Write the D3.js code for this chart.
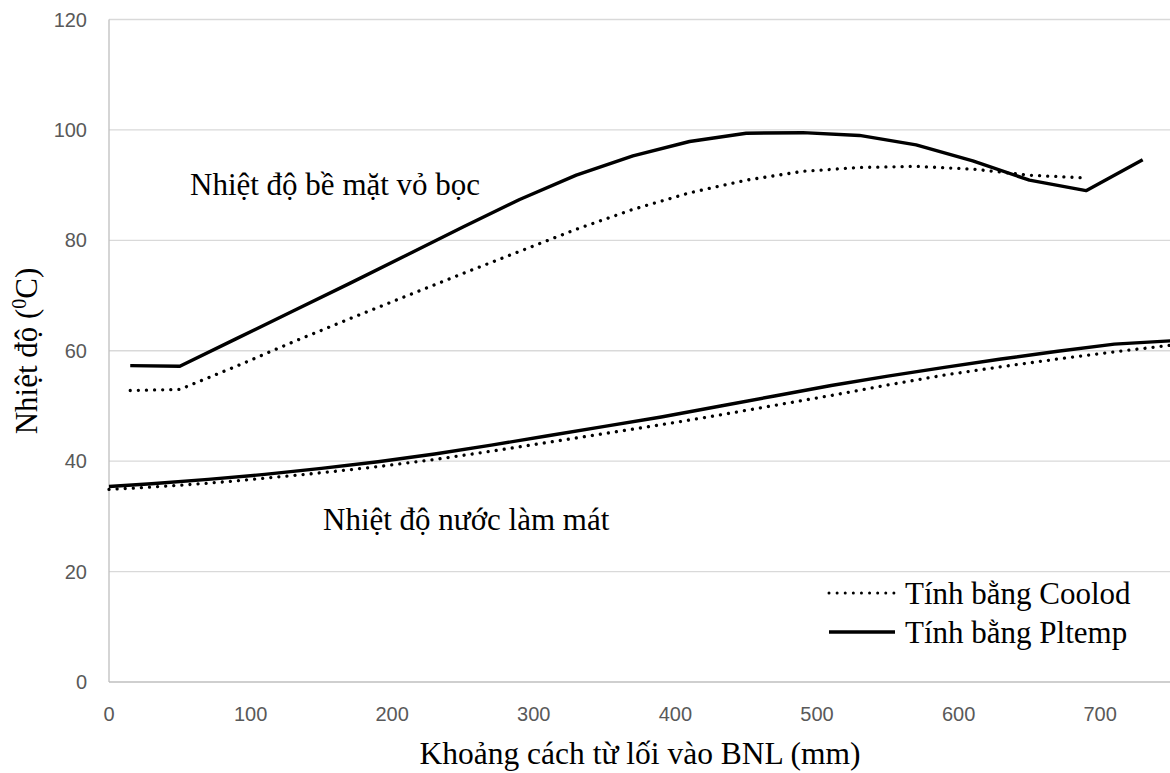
<!DOCTYPE html>
<html>
<head>
<meta charset="utf-8">
<script src="https://cdn.jsdelivr.net/npm/d3@7"></script>
<style>
  body { margin: 0; background: #fff; }
  .tick-label { font-family: "Liberation Sans", Arial, sans-serif; font-size: 20px; fill: #595959; }
  .serif { font-family: "Liberation Serif", "Times New Roman", serif; fill: #000; }
</style>
</head>
<body>
<div id="chart"></div>
<script>
// Distance from the inlet (mm) and temperatures (°C)
const surfaceX = [15, 50, 90, 130, 170, 210, 250, 290, 330, 370, 410, 450, 490, 530, 570, 610, 650, 690, 730];
const surfacePltemp = [57.3, 57.2, 62.2, 67.2, 72.2, 77.3, 82.4, 87.4, 91.8, 95.3, 97.9, 99.4, 99.5, 99.0, 97.3, 94.4, 90.9, 89.0, 94.6];
const surfaceCoolod = [52.8, 53.0, 57.2, 61.6, 65.8, 69.9, 74.0, 78.0, 82.0, 85.6, 88.6, 90.9, 92.5, 93.2, 93.4, 92.9, 91.8, 91.3];

const waterX = [0, 30, 70, 110, 150, 190, 230, 270, 310, 350, 390, 430, 470, 510, 550, 590, 630, 670, 710, 750];
const waterPltemp = [35.4, 35.9, 36.7, 37.6, 38.7, 39.9, 41.3, 42.9, 44.6, 46.3, 48.0, 49.9, 51.8, 53.7, 55.4, 57.0, 58.5, 59.9, 61.2, 61.8];
const waterCoolod = [34.9, 35.3, 36.0, 36.9, 37.9, 39.0, 40.3, 41.8, 43.4, 45.0, 46.6, 48.3, 50.1, 51.9, 53.8, 55.6, 57.1, 58.5, 59.8, 61.0];

const xTicks = [0, 100, 200, 300, 400, 500, 600, 700];
const yTicks = [0, 20, 40, 60, 80, 100, 120];

const legendLabels = ["Tính bằng Coolod", "Tính bằng Pltemp"];

const width = 1170, height = 773;
const margin = { top: 19.5, right: -1, bottom: 91, left: 109 };

const svg = d3.select("#chart")
    .append("svg")
    .attr("width", width)
    .attr("height", height);

const x = d3.scaleLinear()
    .domain([0, 750])
    .range([margin.left, width - margin.right]);

const y = d3.scaleLinear()
    .domain([0, 120])
    .range([height - margin.bottom, margin.top]);

// Gridlines
svg.append("g")
    .selectAll("line")
    .data(yTicks.slice(1))
    .enter()
    .append("line")
    .attr("x1", x(0))
    .attr("x2", x(750))
    .attr("y1", d => y(d))
    .attr("y2", d => y(d))
    .attr("stroke", "#d9d9d9")
    .attr("stroke-width", 1.3);

// Axes lines
svg.append("line")
    .attr("x1", x(0)).attr("x2", x(750))
    .attr("y1", y(0)).attr("y2", y(0))
    .attr("stroke", "#bfbfbf").attr("stroke-width", 1.3);

svg.append("line")
    .attr("x1", x(0)).attr("x2", x(0))
    .attr("y1", y(0)).attr("y2", y(120))
    .attr("stroke", "#bfbfbf").attr("stroke-width", 1.3);

// Tick labels
svg.append("g")
    .selectAll("text")
    .data(yTicks)
    .enter()
    .append("text")
    .attr("class", "tick-label")
    .attr("x", x(0) - 22)
    .attr("y", d => y(d))
    .attr("dy", "0.35em")
    .attr("text-anchor", "end")
    .text(d => d);

svg.append("g")
    .selectAll("text")
    .data(xTicks)
    .enter()
    .append("text")
    .attr("class", "tick-label")
    .attr("x", d => x(d))
    .attr("y", y(0) + 32)
    .attr("dy", "0.35em")
    .attr("text-anchor", "middle")
    .text(d => d);

// Series
const line = d3.line()
    .x(d => x(d[0]))
    .y(d => y(d[1]));

const series = [
    { xs: surfaceX, ys: surfaceCoolod, dotted: true },
    { xs: surfaceX, ys: surfacePltemp, dotted: false },
    { xs: waterX, ys: waterCoolod, dotted: true },
    { xs: waterX, ys: waterPltemp, dotted: false }
];

series.forEach(s => {
    const pts = s.ys.map((v, i) => [s.xs[i], v]);
    const path = svg.append("path")
        .datum(pts)
        .attr("fill", "none")
        .attr("stroke", "#000")
        .attr("d", line);
    if (s.dotted) {
        path.attr("stroke-width", 3.3)
            .attr("stroke-linecap", "round")
            .attr("stroke-dasharray", "0.01 8.1");
    } else {
        path.attr("stroke-width", 3.4)
            .attr("stroke-linejoin", "round");
    }
});

// Annotations
svg.append("text")
    .attr("class", "serif")
    .attr("x", 190)
    .attr("y", 195)
    .style("font-size", "31px")
    .text("Nhiệt độ bề mặt vỏ bọc");

svg.append("text")
    .attr("class", "serif")
    .attr("x", 323)
    .attr("y", 530)
    .style("font-size", "31px")
    .text("Nhiệt độ nước làm mát");

// Legend
const legend = svg.append("g");
legendLabels.forEach((label, i) => {
    const ly = 593 + i * 39;
    const l = legend.append("line")
        .attr("x1", 829).attr("x2", 895)
        .attr("y1", ly).attr("y2", ly)
        .attr("stroke", "#000");
    if (i === 0) {
        l.attr("stroke-width", 3)
            .attr("stroke-linecap", "round")
            .attr("stroke-dasharray", "0.01 8.1");
    } else {
        l.attr("stroke-width", 3.4);
    }
    legend.append("text")
        .attr("class", "serif")
        .attr("x", 905)
        .attr("y", ly + 11)
        .style("font-size", "31px")
        .text(label);
});

// Axis titles
svg.append("text")
    .attr("class", "serif")
    .attr("x", 640)
    .attr("y", 764)
    .attr("text-anchor", "middle")
    .style("font-size", "31.5px")
    .text("Khoảng cách từ lối vào BNL (mm)");

const yTitle = svg.append("text")
    .attr("class", "serif")
    .attr("transform", "translate(37,351) rotate(-90)")
    .attr("text-anchor", "middle")
    .style("font-size", "31px");
yTitle.append("tspan").text("Nhiệt độ (");
yTitle.append("tspan").attr("baseline-shift", "super").style("font-size", "20px").text("0");
yTitle.append("tspan").text("C)");
</script>
</body>
</html>
